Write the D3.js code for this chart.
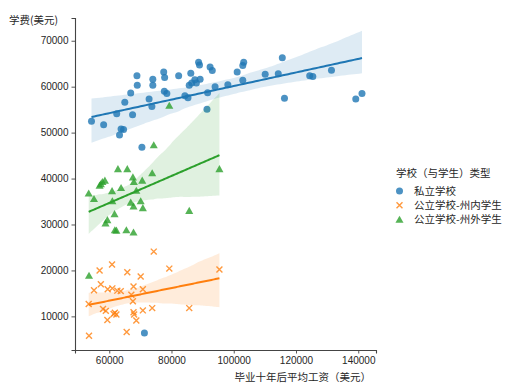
<!DOCTYPE html>
<html>
<head>
<meta charset="utf-8">
<script src="https://cdn.jsdelivr.net/npm/d3@7"></script>
<style>
  body { margin: 0; background: #fff; }
  svg text { fill: #262626; }
</style>
</head>
<body>
<div id="chart"></div>
<script>
var width = 506,
    height = 383;

// 类别
var groups = ["私立学校", "公立学校-州内学生", "公立学校-州外学生"];
var colors = ["#1f77b4", "#ff7f0e", "#2ca02c"];

// 私立学校
var privSalary = [54300, 58200, 62400, 63800, 64600, 63300, 65000, 66900, 68900, 69000,
  67500, 72800, 73700, 74000, 74000, 77500, 77800, 77700, 78500, 82300,
  84300, 85300, 86200, 85700, 86500, 87500, 88000, 89200, 88700, 89000,
  92400, 93100, 91600, 91400, 94000, 98100, 101100, 102900, 103200, 102900,
  110100, 114300, 115600, 116300, 124400, 125400, 131400, 139200, 141200, 70500,
  71300];
var privTuition = [52500, 51700, 54100, 50800, 50700, 49500, 56600, 58600, 62400, 60300,
  53900, 57300, 55700, 61600, 60300, 63200, 62000, 59000, 58500, 62400,
  58000, 57600, 62900, 60300, 60800, 61500, 60800, 61600, 65300, 64700,
  64300, 63500, 58700, 55100, 60000, 60400, 63200, 64600, 65300, 61400,
  62700, 62800, 66300, 57500, 62400, 62200, 63600, 57300, 58500, 46800,
  6400];

// 公立学校-州内学生
var inSalary = [74300, 60900, 56900, 65800, 70100, 79300, 95400, 57300, 59500, 55100,
  61000, 62600, 63700, 67800, 70800, 67100, 67600, 53400, 58000, 58900,
  61800, 62300, 61400, 67800, 68000, 70800, 73800, 85700, 59400, 68700,
  65600, 53500];
var inTuition = [24100, 21300, 20000, 19600, 18700, 20400, 20200, 17000, 15900, 15700,
  16100, 15600, 15500, 16500, 15900, 14700, 13300, 12700, 11600, 11200,
  10800, 10400, 10500, 10900, 10400, 11300, 11800, 11800, 9200, 9100,
  6600, 5800];

// 公立学校-州外学生
var outSalary = [79300, 74300, 62800, 65800, 67600, 67900, 70600, 73800, 95400, 57800,
  58600, 56900, 57300, 63800, 60900, 68700, 53400, 55100, 61000, 66900,
  67800, 70100, 70800, 61700, 59400, 58800, 61800, 62300, 65500, 67800,
  85700, 53500];
var outTuition = [55900, 47300, 42100, 42100, 40300, 39300, 39600, 41200, 42100, 39300,
  39600, 38500, 38800, 38000, 37300, 37400, 36800, 35600, 35100, 34800,
  34000, 35100, 33600, 32300, 31000, 30300, 28800, 28700, 28800, 28300,
  33000, 18900];

// 刻度
var xTicks = [60000, 80000, 100000, 120000, 140000];
var yTicks = [10000, 20000, 30000, 40000, 50000, 60000, 70000];

var series = [
  { name: groups[0], xs: privSalary, ys: privTuition, color: colors[0], marker: "o" },
  { name: groups[1], xs: inSalary, ys: inTuition, color: colors[1], marker: "x" },
  { name: groups[2], xs: outSalary, ys: outTuition, color: colors[2], marker: "^" }
];

var x = d3.scaleLinear().domain([49000, 145700]).range([75, 376]);
var y = d3.scaleLinear().domain([2680, 74950]).range([350, 18]);

var svg = d3.select("#chart").append("svg")
    .attr("width", width)
    .attr("height", height);

// axes (despined: only left and bottom)
var xAxis = svg.append("g")
    .attr("transform", "translate(0,350)")
    .call(d3.axisBottom(x).tickValues(xTicks).tickFormat(d3.format("d")).tickSizeOuter(0).tickSize(3.5).tickPadding(3));
var yAxis = svg.append("g")
    .attr("transform", "translate(75,0)")
    .call(d3.axisLeft(y).tickValues(yTicks).tickFormat(d3.format("d")).tickSizeOuter(0).tickSize(3.5).tickPadding(3));
[xAxis, yAxis].forEach(function(a) {
  a.select(".domain").attr("stroke", "#444").attr("stroke-width", 1.1);
  a.selectAll(".tick line").attr("stroke", "#444").attr("stroke-width", 0.9);
  a.selectAll(".tick text")
    .style("font-family", "'Liberation Sans', Arial, sans-serif")
    .style("font-size", "10px")
    .attr("fill", "#262626");
});

var cjk = "'Noto Sans CJK SC', sans-serif";

svg.append("text")
    .attr("x", 9).attr("y", 24)
    .style("font-family", cjk).style("font-size", "10.5px")
    .text("学费(美元)");

svg.append("text")
    .attr("x", 371).attr("y", 381)
    .attr("text-anchor", "end")
    .style("font-family", cjk).style("font-size", "10.5px")
    .text("毕业十年后平均工资（美元）");

// seeded generator so the bootstrap band is the same on every run
var seed = 12345;
function rng() {
  seed = (seed * 1664525 + 1013904223) % 4294967296;
  return seed / 4294967296;
}

function ols(xs, ys) {
  var mx = d3.mean(xs), my = d3.mean(ys),
      sxx = d3.sum(xs, function(v) { return (v - mx) * (v - mx); }),
      sxy = d3.sum(xs, function(v, i) { return (v - mx) * (ys[i] - my); }),
      b = sxy / sxx;
  return [my - b * mx, b];
}

// regression line with 95% bootstrap band, like seaborn's regplot
function fit(xs, ys) {
  var n = xs.length,
      ab = ols(xs, ys),
      lo = d3.min(xs), hi = d3.max(xs),
      grid = d3.range(100).map(function(i) { return lo + (hi - lo) * i / 99; }),
      boots = grid.map(function() { return []; });
  for (var k = 0; k < 1000; k++) {
    var bx = [], by = [];
    for (var j = 0; j < n; j++) {
      var idx = Math.floor(rng() * n);
      bx.push(xs[idx]); by.push(ys[idx]);
    }
    var c = ols(bx, by);
    if (!isFinite(c[1])) continue;
    grid.forEach(function(g, i) { boots[i].push(c[0] + c[1] * g); });
  }
  return grid.map(function(g, i) {
    var arr = boots[i].sort(d3.ascending);
    return { x: g, y: ab[0] + ab[1] * g,
             y0: d3.quantileSorted(arr, 0.025), y1: d3.quantileSorted(arr, 0.975) };
  });
}

var line = d3.line().x(function(d) { return x(d.x); }).y(function(d) { return y(d.y); });
var area = d3.area().x(function(d) { return x(d.x); })
    .y0(function(d) { return y(d.y0); }).y1(function(d) { return y(d.y1); });

function drawMarker(sel, marker, color, size) {
  if (marker === "o") {
    sel.append("circle").attr("r", size).attr("fill", color).attr("fill-opacity", 0.8);
  } else if (marker === "x") {
    var s = size * 0.85;
    sel.append("path")
      .attr("d", "M" + (-s) + "," + (-s) + "L" + s + "," + s + "M" + (-s) + "," + s + "L" + s + "," + (-s))
      .attr("stroke", color).attr("stroke-width", 1.4).attr("stroke-opacity", 0.8).attr("fill", "none");
  } else {
    var r = size * 1.1;
    sel.append("path")
      .attr("d", "M0," + (-r) + "L" + (r * 1.05) + "," + (r * 0.85) + "L" + (-r * 1.05) + "," + (r * 0.85) + "Z")
      .attr("fill", color).attr("fill-opacity", 0.8);
  }
}

series.forEach(function(s) {
  var g = svg.append("g");
  var pts = s.xs.map(function(v, i) { return [v, s.ys[i]]; });
  g.selectAll("g.pt").data(pts).enter().append("g")
    .attr("class", "pt")
    .attr("transform", function(d) { return "translate(" + x(d[0]) + "," + y(d[1]) + ")"; })
    .each(function() { drawMarker(d3.select(this), s.marker, s.color, 3.5); });

  var reg = fit(s.xs, s.ys);
  g.append("path").datum(reg).attr("d", area)
    .attr("fill", s.color).attr("fill-opacity", 0.15);
  g.append("path").datum(reg).attr("d", line)
    .attr("fill", "none").attr("stroke", s.color).attr("stroke-width", 2);
});

// legend
var lg = svg.append("g");
lg.append("text")
    .attr("x", 396).attr("y", 177)
    .style("font-family", cjk).style("font-size", "10.5px")
    .text("学校（与学生）类型");
series.forEach(function(s, i) {
  var yy = 191 + i * 14.3;
  var m = lg.append("g").attr("transform", "translate(399.5," + yy + ")");
  drawMarker(m, s.marker, s.color, 3.5);
  lg.append("text")
    .attr("x", 414).attr("y", yy + 3.8)
    .style("font-family", cjk).style("font-size", "10.5px")
    .text(s.name);
});
</script>
</body>
</html>
